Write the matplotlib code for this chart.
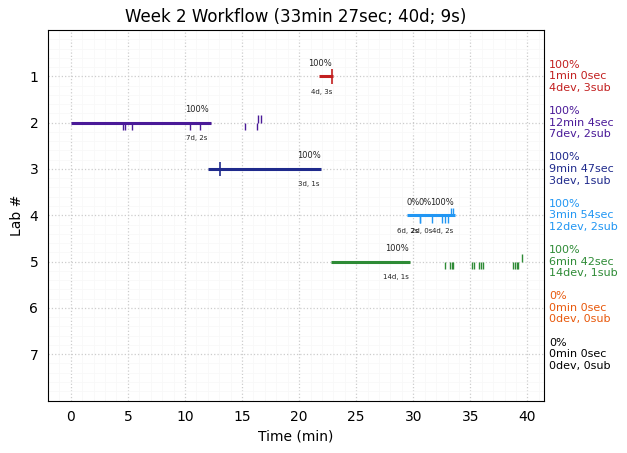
"""Lab workflow timeline: one bar per lab, submissions and saves as small ticks."""
import matplotlib
matplotlib.use("Agg")
import matplotlib.pyplot as plt
from matplotlib.ticker import MultipleLocator

LABS = [1, 2, 3, 4, 5, 6, 7]
COLORS = ["#c21f1f", "#4a1a98", "#1f2a8c", "#2196f3", "#2e8b36", "#e8590c", "#000000"]
BAR_START = [21.7, 0.0, 12.0, 29.45, 22.75]
BAR_END = [23.0, 12.25, 21.95, 33.65, 29.7]

TICKS_BELOW = [
    [],
    [4.6, 4.73, 5.37, 10.46, 11.33, 15.28, 16.33],
    [],
    [30.6, 30.63, 31.6, 32.55, 32.8, 33.07],
    [32.8, 33.25, 33.4, 33.5, 35.17, 35.35, 35.78, 35.93, 36.1, 38.76, 38.9, 39.05, 39.2],
]
TICKS_ABOVE = [
    [],
    [16.4, 16.7],
    [],
    [33.33, 33.5],
    [39.55],
]
TICKS_BOTH = [[22.9], [], [13.06], [], []]

PCT_LABELS = [
    (21.85, 1, "100%"),
    (11.05, 2, "100%"),
    (20.87, 3, "100%"),
    (29.95, 4, "0%"),
    (31.0, 4, "0%"),
    (32.5, 4, "100%"),
    (28.6, 5, "100%"),
]
DEV_LABELS = [
    (21.95, 1, "4d, 3s"),
    (11.05, 2, "7d, 2s"),
    (20.87, 3, "3d, 1s"),
    (29.55, 4, "6d, 2s"),
    (30.7, 4, "2d, 0s"),
    (32.55, 4, "4d, 2s"),
    (28.45, 5, "14d, 1s"),
]
SUMMARY = [
    "100%\n1min 0sec\n4dev, 3sub",
    "100%\n12min 4sec\n7dev, 2sub",
    "100%\n9min 47sec\n3dev, 1sub",
    "100%\n3min 54sec\n12dev, 2sub",
    "100%\n6min 42sec\n14dev, 1sub",
    "0%\n0min 0sec\n0dev, 0sub",
    "0%\n0min 0sec\n0dev, 0sub",
]

fig = plt.figure(figsize=(6.27, 4.53), dpi=100)
ax = fig.add_axes([48 / 627, 1 - 400.5 / 453, 496 / 627, 370.5 / 453])

for i, (start, end) in enumerate(zip(BAR_START, BAR_END)):
    y = LABS[i]
    c = COLORS[i]
    ax.plot([start, end], [y, y], color=c, lw=2.2, solid_capstyle="butt", zorder=3)
    if TICKS_BELOW[i]:
        ax.vlines(TICKS_BELOW[i], y, y + 0.16, color=c, lw=1, zorder=3)
    if TICKS_ABOVE[i]:
        ax.vlines(TICKS_ABOVE[i], y - 0.16, y, color=c, lw=1, zorder=3)
    if TICKS_BOTH[i]:
        ax.vlines(TICKS_BOTH[i], y - 0.16, y + 0.16, color=c, lw=1.2, zorder=3)

for x, y, s in PCT_LABELS:
    ax.text(x, y - 0.28, s, fontsize=6, ha="center", va="center", color="#222222")
for x, y, s in DEV_LABELS:
    ax.text(x, y + 0.33, s, fontsize=5, ha="center", va="center", color="#222222")

# summaries sit just outside the right spine
for y, s, c in zip(LABS, SUMMARY, COLORS):
    ax.annotate(s, xy=(1, y), xycoords=ax.get_yaxis_transform(), xytext=(3.5, 0),
                textcoords="offset points", fontsize=8, color=c, ha="left", va="center",
                annotation_clip=False)

ax.set_xlim(-2, 41.45)
ax.set_ylim(8, 0)
ax.set_yticks(LABS)
ax.xaxis.set_major_locator(MultipleLocator(5))
ax.xaxis.set_minor_locator(MultipleLocator(1))
ax.yaxis.set_minor_locator(MultipleLocator(0.2))
ax.tick_params(which="both", length=0, pad=7)
ax.grid(True, which="major", ls=":", color="#cccccc", lw=0.9)
ax.grid(True, which="minor", ls="-", color="#f8f8f8", lw=0.6)
ax.set_axisbelow(True)
ax.set_xlabel("Time (min)")
ax.set_ylabel("Lab #")
ax.set_title("Week 2 Workflow (33min 27sec; 40d; 9s)")

fig.savefig("out.png", dpi=100)
